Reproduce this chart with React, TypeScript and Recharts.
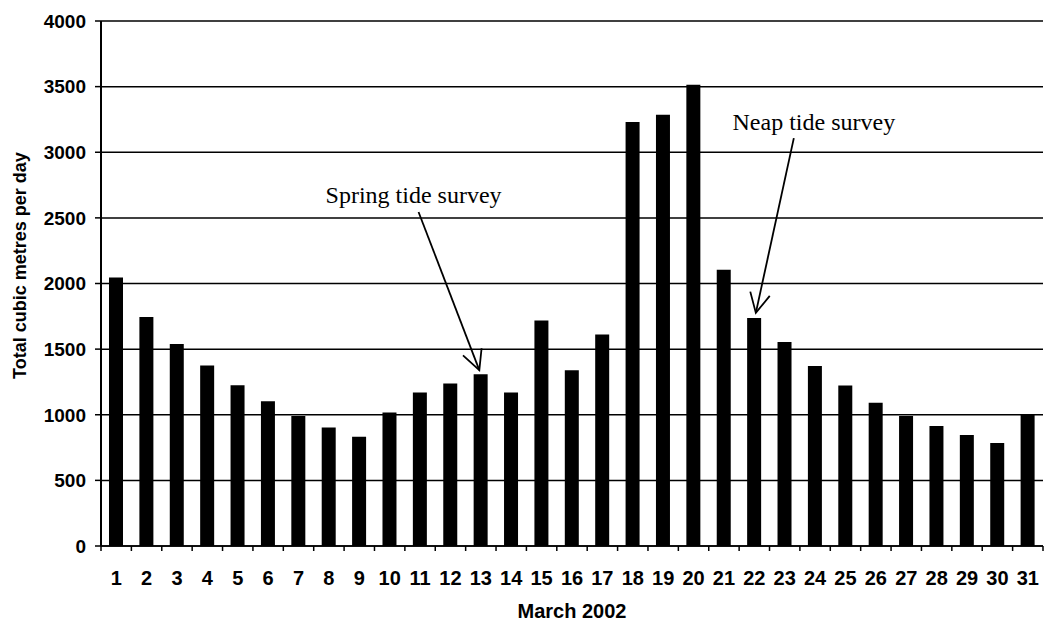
import React from 'react';
import { BarChart, Bar, XAxis, YAxis, CartesianGrid, ReferenceLine } from 'recharts';

const days: number[] = [
  1, 2, 3, 4, 5, 6, 7, 8, 9, 10, 11, 12, 13, 14, 15, 16,
  17, 18, 19, 20, 21, 22, 23, 24, 25, 26, 27, 28, 29, 30, 31,
];
const volumes: number[] = [
  2045, 1745, 1540, 1375, 1225, 1103, 990, 902, 833, 1018, 1170, 1238, 1308, 1170, 1718, 1340,
  1612, 3230, 3285, 3515, 2105, 1738, 1555, 1372, 1222, 1092, 990, 915, 845, 785, 1005,
];
const yTicks: number[] = [0, 500, 1000, 1500, 2000, 2500, 3000, 3500, 4000];

const xTitle = 'March 2002';
const yTitle = 'Total cubic metres per day';

const springText = 'Spring tide survey';
const springArrow = [
  { x: 10.95, y: 2545 },
  { x: 12.95, y: 1340 },
];
const neapText = 'Neap tide survey';
const neapArrow = [
  { x: 23.3, y: 3108 },
  { x: 22.05, y: 1776 },
];

const data = days.map((d, i) => ({ day: d, volume: volumes[i] }));
const xTicks: number[] = days.flatMap((d) => [d - 0.5, d]).concat([days[days.length - 1] + 0.5]);

const SANS = '"Liberation Sans", Arial, sans-serif';
const SERIF = '"Liberation Serif", "Times New Roman", serif';

const XTick = (props: any) => {
  const { x, y, payload } = props;
  const v = payload.value;
  if (Number.isInteger(v)) {
    return (
      <text x={x} y={y + 39} textAnchor="middle" fontFamily={SANS} fontSize={20} fontWeight="bold" fill="#000">
        {v}
      </text>
    );
  }
  return <line x1={x} x2={x} y1={y} y2={y + 5} stroke="#000" strokeWidth={1.5} />;
};

const YTick = (props: any) => {
  const { x, y, payload } = props;
  return (
    <text x={x} y={y} dy="0.36em" textAnchor="end" fontFamily={SANS} fontSize={19} fontWeight="bold" fill="#000">
      {payload.value}
    </text>
  );
};

const makeArrow = (text: string, dx: number, dy: number) => (props: any) => {
  const { x1, y1, x2, y2 } = props;
  if ([x1, y1, x2, y2].some((v) => typeof v !== 'number' || isNaN(v))) return <g />;
  const ang = Math.atan2(y1 - y2, x1 - x2);
  const L = 22;
  const s = 0.47;
  const ax = x2 + L * Math.cos(ang - s);
  const ay = y2 + L * Math.sin(ang - s);
  const bx = x2 + L * Math.cos(ang + s);
  const by = y2 + L * Math.sin(ang + s);
  return (
    <g>
      <line x1={x1} y1={y1} x2={x2} y2={y2} stroke="#000" strokeWidth={1.8} />
      <polyline points={`${ax},${ay} ${x2},${y2} ${bx},${by}`} fill="none" stroke="#000" strokeWidth={1.8} />
      <text x={x1 + dx} y={y1 + dy} textAnchor="middle" fontFamily={SERIF} fontSize={24} fill="#000">
        {text}
      </text>
    </g>
  );
};

const XTitle = (props: any) => {
  const vb = props.viewBox || { x: 101, y: 546, width: 941, height: 82 };
  return (
    <text x={vb.x + vb.width / 2} y={vb.y + vb.height - 10} textAnchor="middle" fontFamily={SANS} fontSize={20} fontWeight="bold" fill="#000">
      {xTitle}
    </text>
  );
};

const YTitle = (props: any) => {
  const vb = props.viewBox || { x: 0, y: 21, width: 101, height: 525 };
  const cx = vb.x + 26;
  const cy = vb.y + vb.height / 2 - 18;
  return (
    <text x={cx} y={cy} transform={`rotate(-90, ${cx}, ${cy})`} textAnchor="middle" fontFamily={SANS} fontSize={18} fontWeight="bold" fill="#000">
      {yTitle}
    </text>
  );
};

export default function App() {
  return (
    <div style={{ position: 'absolute', left: 0, top: 0, background: '#fff' }}>
      <BarChart width={1050} height={628} data={data} margin={{ top: 21, right: 7, bottom: 0, left: 0 }}>
        <CartesianGrid vertical={false} stroke="#000" strokeWidth={1.5} />
        <XAxis
          dataKey="day"
          type="number"
          domain={[0.5, 31.5]}
          ticks={xTicks}
          interval={0}
          tick={<XTick />}
          tickLine={false}
          tickSize={0}
          tickMargin={0}
          height={82}
          axisLine={{ stroke: '#000', strokeWidth: 1.5 }}
          label={{ content: <XTitle /> } as any}
        />
        <YAxis
          domain={[0, 4000]}
          ticks={yTicks}
          interval={0}
          width={101}
          tick={<YTick />}
          tickSize={6}
          tickMargin={9}
          tickLine={{ stroke: '#000', strokeWidth: 1.5 }}
          axisLine={{ stroke: '#000', strokeWidth: 2 }}
          label={{ content: <YTitle /> } as any}
        />
        <Bar dataKey="volume" fill="#000" barSize={14} isAnimationActive={false} />
        <ReferenceLine segment={springArrow} shape={makeArrow(springText, -5, -9)} ifOverflow="visible" />
        <ReferenceLine segment={neapArrow} shape={makeArrow(neapText, 20, -8)} ifOverflow="visible" />
      </BarChart>
    </div>
  );
}
